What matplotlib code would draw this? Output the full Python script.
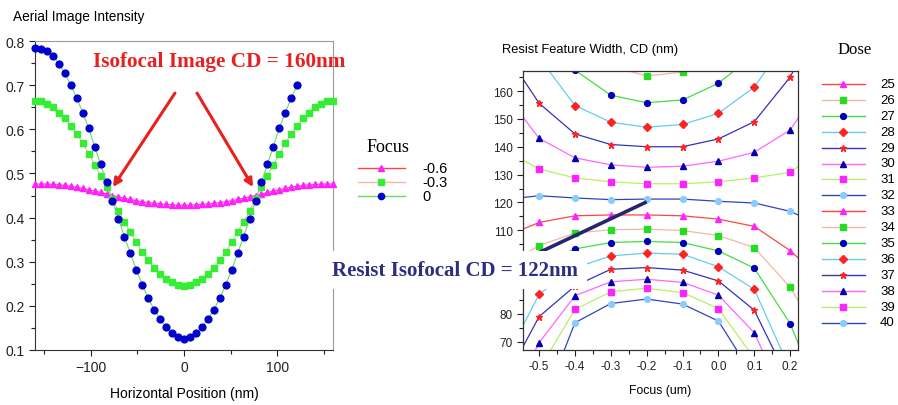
import matplotlib
matplotlib.use("Agg")
import matplotlib.pyplot as plt
from matplotlib.lines import Line2D
from matplotlib.ticker import MultipleLocator, FormatStrFormatter, FuncFormatter

plt.rcParams['font.family'] = ['Liberation Sans', 'DejaVu Sans']

# ---- left chart: aerial image intensity vs position, per focus ----
x_pos = [-160.0, -153.6, -147.2, -140.8, -134.4, -128.0, -121.6, -115.2, -108.8, -102.4,
         -96.0, -89.6, -83.2, -76.8, -70.4, -64.0, -57.6, -51.2, -44.8, -38.4,
         -32.0, -25.6, -19.2, -12.8, -6.4, 0.0, 6.4, 12.8, 19.2, 25.6,
         32.0, 38.4, 44.8, 51.2, 57.6, 64.0, 70.4, 76.8, 83.2, 89.6,
         96.0, 102.4, 108.8, 115.2, 121.6, 128.0, 134.4, 140.8, 147.2, 153.6, 160.0]

int_m06 = [0.476, 0.476, 0.476, 0.475, 0.474, 0.473, 0.471, 0.469, 0.466, 0.463,
           0.460, 0.457, 0.453, 0.450, 0.447, 0.444, 0.441, 0.438, 0.436, 0.434,
           0.432, 0.431, 0.430, 0.429, 0.428, 0.428, 0.428, 0.429, 0.430, 0.431,
           0.432, 0.434, 0.436, 0.438, 0.441, 0.444, 0.447, 0.450, 0.453, 0.457,
           0.460, 0.463, 0.466, 0.469, 0.471, 0.473, 0.474, 0.475, 0.476, 0.476, 0.476]

int_m03 = [0.665, 0.663, 0.658, 0.650, 0.638, 0.625, 0.608, 0.590, 0.568, 0.545,
           0.520, 0.495, 0.470, 0.443, 0.415, 0.391, 0.367, 0.344, 0.323, 0.303,
           0.286, 0.273, 0.261, 0.253, 0.248, 0.245, 0.248, 0.253, 0.261, 0.273,
           0.286, 0.303, 0.323, 0.344, 0.367, 0.391, 0.415, 0.443, 0.470, 0.495,
           0.520, 0.545, 0.568, 0.590, 0.608, 0.625, 0.638, 0.650, 0.658, 0.663, 0.665]

# focus 0 only shown up to +121.6 nm
int_0 = [0.785, 0.782, 0.777, 0.767, 0.749, 0.727, 0.700, 0.671, 0.638, 0.603,
         0.561, 0.521, 0.480, 0.438, 0.397, 0.357, 0.319, 0.282, 0.248, 0.217,
         0.191, 0.170, 0.152, 0.138, 0.130, 0.126, 0.130, 0.138, 0.152, 0.170,
         0.191, 0.217, 0.248, 0.282, 0.319, 0.357, 0.397, 0.438, 0.480, 0.521,
         0.561, 0.603, 0.638, 0.671, 0.700]

focus_labels = ['-0.6', '-0.3', '0']

# ---- right chart: resist CD vs focus, per dose ----
focus = [-0.6, -0.5, -0.4, -0.3, -0.2, -0.1, 0.0, 0.1, 0.2, 0.3]
doses = [25, 26, 27, 28, 29, 30, 31, 32, 33, 34, 35, 36, 37, 38, 39, 40]

cd25 = [215, 200, 188, 181, 178, 179, 185, 196, 212, 235]
cd26 = [205, 190, 177, 169, 165.4, 166.8, 172, 183, 198, 220]
cd27 = [195, 180, 167.5, 158.5, 155.8, 156.8, 162.8, 173, 188, 210]
cd28 = [195, 172, 154.8, 148.8, 147, 148, 152, 161.4, 180, 205]
cd29 = [175, 155.6, 144.6, 140.8, 140, 140, 142.8, 149, 165, 190]
cd30 = [160, 143, 136, 133.5, 132.6, 133, 134.8, 138, 146, 165]
cd31 = [139, 132, 128.8, 127.4, 126.7, 126.7, 127.4, 128.8, 130.8, 140]
cd32 = [121, 122.4, 121.6, 121, 121.2, 121.2, 120.4, 119.8, 116.8, 111]
cd33 = [107.5, 112.8, 115.2, 115.5, 115.5, 115.2, 114, 111.4, 102.7, 91]
cd34 = [97, 104.5, 109, 110.2, 110.4, 109.9, 108.1, 103.8, 89.5, 68]
cd35 = [88, 98, 103.3, 105.6, 106, 105.6, 102.6, 96.4, 76.5, 45]
cd36 = [62, 87, 96.5, 100.8, 101.8, 101.4, 96.9, 88.8, 60, 30]
cd37 = [55, 79, 90, 96, 96.6, 95.7, 91.8, 81.3, 55, 25]
cd38 = [45, 69.6, 86.5, 91.5, 92.4, 91.3, 86.7, 73.2, 45, 15]
cd39 = [35, 60, 81.6, 87.9, 89.2, 87.6, 81.9, 64, 35, 5]
cd40 = [20, 44, 76.8, 83.7, 85.3, 83.5, 77.4, 57, 25, 0]
cd_all = [cd25, cd26, cd27, cd28, cd29, cd30, cd31, cd32,
          cd33, cd34, cd35, cd36, cd37, cd38, cd39, cd40]

# style cycle (line colour, marker, marker colour), repeats every 8 doses
styles = [('#ff4444', '^', '#ff22ff'),
          ('#f2b8a2', 's', '#22dd22'),
          ('#44dd44', 'o', '#0000bb'),
          ('#66ccee', 'D', '#ff2222'),
          ('#3333bb', '*', '#ff2222'),
          ('#ff66ff', '^', '#0000aa'),
          ('#bbee66', 's', '#ff22ff'),
          ('#3344bb', 'o', '#88ccff')]

W, H = 898, 406
fig = plt.figure(figsize=(W / 100, H / 100), dpi=100)


def fx(px):
    return px / W


def fy(py):
    return 1 - py / H


def msize(mk):
    return 5 if mk == '*' else (3.6 if mk == 'D' else 4.2)


# ---------------- left axes ----------------
ax1 = fig.add_axes([fx(35), fy(351), (333 - 35) / W, (351 - 42) / H])
ax1.plot(x_pos, int_m06, color='#ff4444', lw=0.8, marker='^', ms=4.8,
         mfc='#ff22ff', mec='#ff22ff', clip_on=False, zorder=3)
ax1.plot(x_pos, int_m03, color='#f2b8a2', lw=0.8, marker='s', ms=4.3,
         mfc='#33ee33', mec='#33ee33', clip_on=False, zorder=4)
ax1.plot(x_pos[:len(int_0)], int_0, color='#66dd66', lw=0.8, marker='o', ms=4.9,
         mfc='#0000cc', mec='#0000cc', clip_on=False, zorder=5)
ax1.set_xlim(-160, 160)
ax1.set_ylim(0.1, 0.8)
ax1.xaxis.set_major_locator(MultipleLocator(100))
ax1.xaxis.set_minor_locator(MultipleLocator(50))
ax1.yaxis.set_major_locator(MultipleLocator(0.1))
ax1.yaxis.set_minor_locator(MultipleLocator(0.05))
ax1.yaxis.set_major_formatter(FormatStrFormatter('%.1f'))
ax1.tick_params(which='both', direction='out', labelsize=10, colors='#222222')
ax1.tick_params(which='major', length=4, width=0.8)
ax1.tick_params(which='minor', length=3, width=0.8)
for s in ['top', 'right']:
    ax1.spines[s].set_color('#9a9a9a')
    ax1.spines[s].set_linewidth(0.8)
for s in ['left', 'bottom']:
    ax1.spines[s].set_color('#333333')
    ax1.spines[s].set_linewidth(0.8)

ax1.annotate('', xy=(-76.3, 0.469), xytext=(-9.7, 0.682),
             arrowprops=dict(arrowstyle='-|>', color='#e82020', lw=2.2,
                             mutation_scale=12, shrinkA=0, shrinkB=0))
ax1.annotate('', xy=(74.2, 0.469), xytext=(14.0, 0.682),
             arrowprops=dict(arrowstyle='-|>', color='#e82020', lw=2.2,
                             mutation_scale=12, shrinkA=0, shrinkB=0))

# ---------------- right axes ----------------
ax2 = fig.add_axes([fx(523), fy(351), (798 - 523) / W, (351 - 72) / H])
for i, (d, cd) in enumerate(zip(doses, cd_all)):
    lc, mk, mc = styles[i % 8]
    ax2.plot(focus, cd, color=lc, lw=0.9, marker=mk, ms=msize(mk), mfc=mc, mec=mc)
ax2.set_xlim(-0.545, 0.222)
ax2.set_ylim(67, 167.2)
ax2.xaxis.set_major_locator(MultipleLocator(0.1))
ax2.xaxis.set_minor_locator(MultipleLocator(0.05))
ax2.xaxis.set_major_formatter(FormatStrFormatter('%.1f'))
ax2.yaxis.set_major_locator(MultipleLocator(10))
ax2.yaxis.set_minor_locator(MultipleLocator(5))
# labels 90 and 100 sit behind the "Resist Isofocal" caption in the reference
ax2.yaxis.set_major_formatter(FuncFormatter(
    lambda v, p: '' if round(v) in (90, 100) else '%d' % round(v)))
ax2.tick_params(which='both', direction='out', labelsize=8.5, colors='#222222')
ax2.tick_params(which='major', length=4, width=0.8)
ax2.tick_params(which='minor', length=3, width=0.8)
for s in ax2.spines.values():
    s.set_color('#333333')
    s.set_linewidth(0.9)
ax2.plot([-0.5, -0.2], [102.0, 120.2], color='#26266e', lw=2.6,
         solid_capstyle='butt', zorder=10)

# ---------------- texts ----------------
fig.text(fx(13), fy(17), 'Aerial Image Intensity', fontsize=9.8, va='center', ha='left')
fig.text(fx(184), fy(394), 'Horizontal Position (nm)', fontsize=10, va='center', ha='center')
fig.text(fx(502), fy(50), 'Resist Feature Width, CD (nm)', fontsize=9.3, va='center', ha='left')
fig.text(fx(660), fy(391), 'Focus (um)', fontsize=8.8, va='center', ha='center')

fig.text(fx(93), fy(62), 'Isofocal Image CD = 160nm', fontsize=15.3, fontweight='bold',
         color='#e82020', family='Liberation Serif', va='center', ha='left', zorder=20)
fig.text(fx(332), fy(271), 'Resist Isofocal CD = 122nm', fontsize=15, fontweight='bold',
         color='#2e2e80', family='Liberation Serif', va='center', ha='left', zorder=20,
         bbox=dict(facecolor='white', edgecolor='none', boxstyle='square,pad=0.45'))

# Focus legend
fig.text(fx(388), fy(148), 'Focus', fontsize=13, family='Liberation Serif',
         va='center', ha='center')
focus_styles = [('#ff4444', '^', '#ff22ff'), ('#f2b8a2', 's', '#33ee33'),
                ('#66dd66', 'o', '#0000cc')]
for i, (lab, (lc, mk, mc)) in enumerate(zip(focus_labels, focus_styles)):
    y = fy(169 + i * 14)
    fig.add_artist(Line2D([fx(358), fx(381), fx(405)], [y, y, y], color=lc, lw=1.0,
                          marker=mk, ms=4.5, mfc=mc, mec=mc, markevery=[1]))
    fig.text(fx(422), y, lab, fontsize=10.5, va='center', ha='left')

# Dose legend
fig.text(fx(855), fy(50), 'Dose', fontsize=12, family='Liberation Serif',
         va='center', ha='center')
for i, d in enumerate(doses):
    lc, mk, mc = styles[i % 8]
    y = fy(85 + i * 15.9)
    fig.add_artist(Line2D([fx(822), fx(843), fx(865)], [y, y, y], color=lc, lw=1.0,
                          marker=mk, ms=msize(mk), mfc=mc, mec=mc, markevery=[1]))
    fig.text(fx(880), y, str(d), fontsize=9.5, va='center', ha='left')

fig.savefig('out.png', dpi=100)
